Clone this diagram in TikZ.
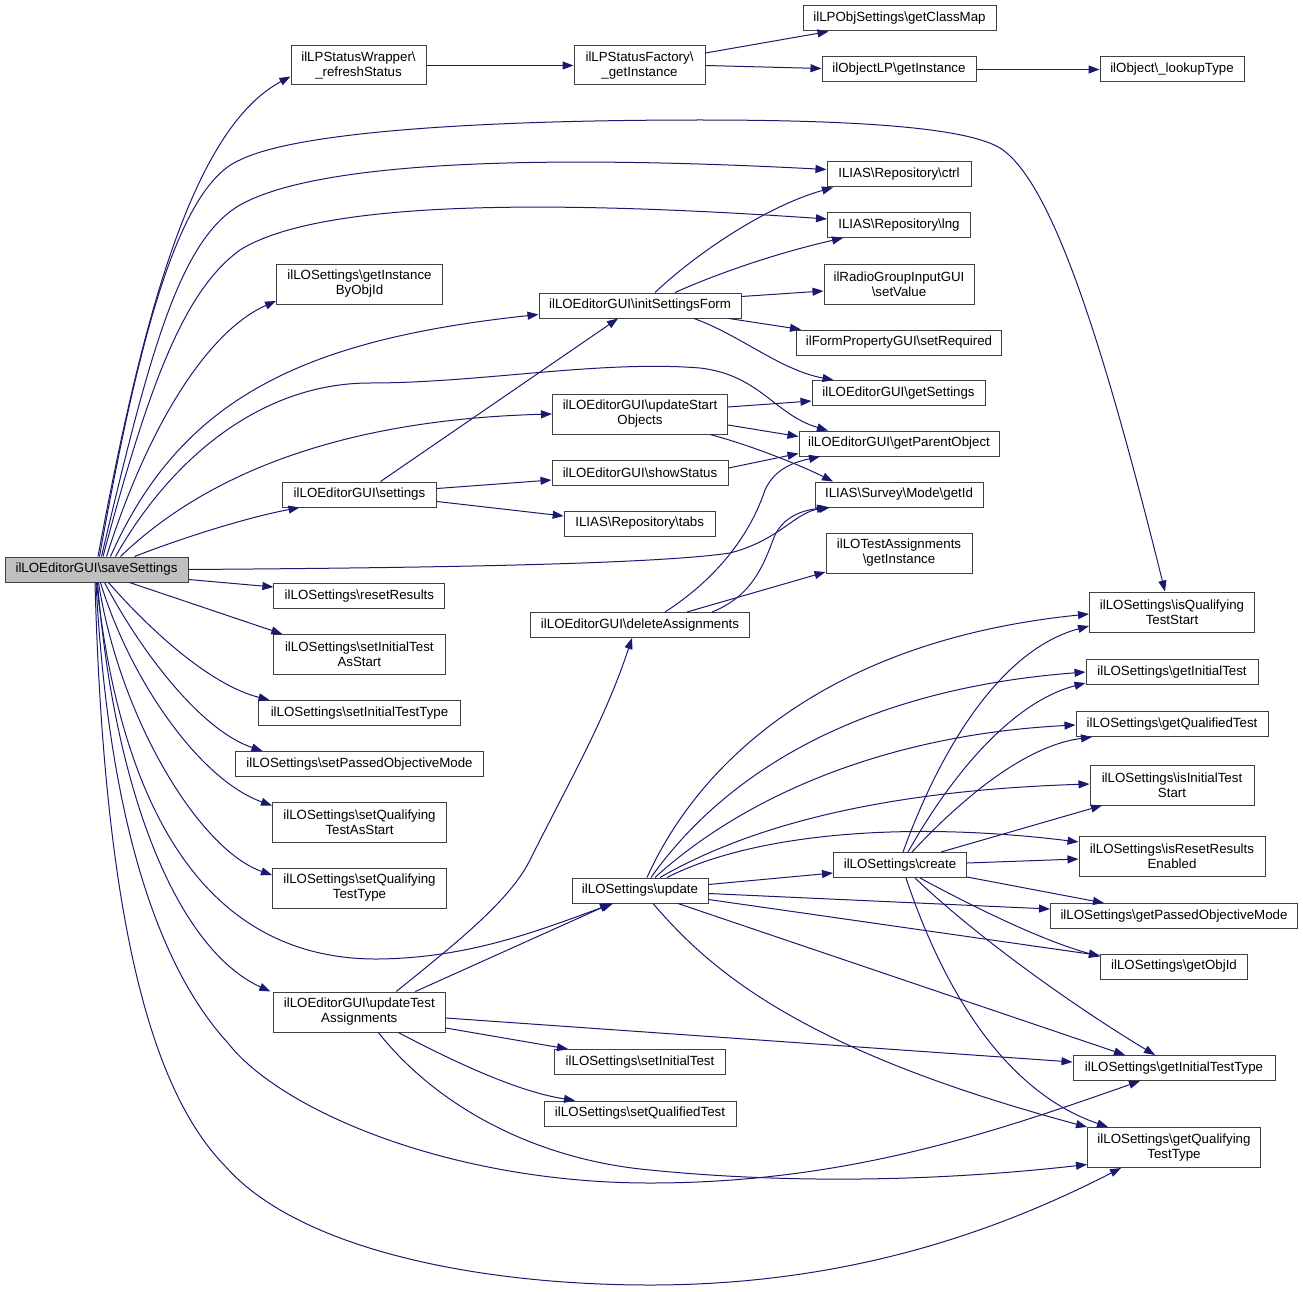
\documentclass[tikz,border=0pt]{standalone}
\usepackage{fontspec}
\setmainfont{Liberation Sans}
\usetikzlibrary{arrows.meta,calc}
\definecolor{edgeblue}{HTML}{191970}
\definecolor{rootgray}{HTML}{BFBFBF}
\definecolor{boxline}{HTML}{404040}
\begin{document}
\begin{tikzpicture}[x=1pt,y=-1pt,
  box/.style={draw=boxline, line width=1pt, fill=white, inner sep=0pt, align=center,
    font=\fontsize{13.3}{15}\selectfont},
  rootbox/.style={box, fill=rootgray},
  edge/.style={draw=edgeblue, line width=1pt, -{Triangle[length=11pt,width=8pt]}, fill=none},
]
\useasboundingbox (0,0) rectangle (1303,1292);
\tikzset{every path/.append style={}}
% nodes
\node[rootbox, minimum width=183pt, minimum height=25pt] (save) at (96.5,569.5) {ilLOEditorGUI\textbackslash saveSettings};
\node[box, minimum width=135pt, minimum height=39pt] (rs) at (358.5,65.5) {ilLPStatusWrapper\textbackslash\\\_refreshStatus};
\node[box, minimum width=131pt, minimum height=39pt] (sf) at (639.5,65.5) {ilLPStatusFactory\textbackslash\\\_getInstance};
\node[box, minimum width=193pt, minimum height=25pt] (gcm) at (899.5,18.5) {ilLPObjSettings\textbackslash getClassMap};
\node[box, minimum width=154pt, minimum height=25pt] (olp) at (899,69.5) {ilObjectLP\textbackslash getInstance};
\node[box, minimum width=144pt, minimum height=25pt] (lt) at (1172,69.5) {ilObject\textbackslash\_lookupType};
\node[box, minimum width=144pt, minimum height=25pt] (ctrl) at (899,174.5) {ILIAS\textbackslash Repository\textbackslash ctrl};
\node[box, minimum width=143pt, minimum height=25pt] (lng) at (899,225) {ILIAS\textbackslash Repository\textbackslash lng};
\node[box, minimum width=166pt, minimum height=40pt] (gibo) at (359.5,284) {ilLOSettings\textbackslash getInstance\\ByObjId};
\node[box, minimum width=202pt, minimum height=25pt] (isf) at (640,305.5) {ilLOEditorGUI\textbackslash initSettingsForm};
\node[box, minimum width=150pt, minimum height=40pt] (rgv) at (899,284) {ilRadioGroupInputGUI\\\textbackslash setValue};
\node[box, minimum width=205pt, minimum height=25pt] (sr) at (899,342.5) {ilFormPropertyGUI\textbackslash setRequired};
\node[box, minimum width=173pt, minimum height=25pt] (gs) at (898.5,393) {ilLOEditorGUI\textbackslash getSettings};
\node[box, minimum width=175pt, minimum height=40pt] (uso) at (640,414) {ilLOEditorGUI\textbackslash updateStart\\Objects};
\node[box, minimum width=200pt, minimum height=25pt] (gpo) at (899,443.5) {ilLOEditorGUI\textbackslash getParentObject};
\node[box, minimum width=176pt, minimum height=25pt] (ss) at (640,473) {ilLOEditorGUI\textbackslash showStatus};
\node[box, minimum width=154pt, minimum height=25pt] (set) at (359.5,494.5) {ilLOEditorGUI\textbackslash settings};
\node[box, minimum width=168pt, minimum height=25pt] (gid) at (899,494.5) {ILIAS\textbackslash Survey\textbackslash Mode\textbackslash getId};
\node[box, minimum width=151pt, minimum height=25pt] (tabs) at (639.7,523.5) {ILIAS\textbackslash Repository\textbackslash tabs};
\node[box, minimum width=146pt, minimum height=40pt] (tai) at (899,553) {ilLOTestAssignments\\\textbackslash getInstance};
\node[box, minimum width=171pt, minimum height=25pt] (rr) at (359.4,596) {ilLOSettings\textbackslash resetResults};
\node[box, minimum width=219pt, minimum height=25pt] (da) at (640,625) {ilLOEditorGUI\textbackslash deleteAssignments};
\node[box, minimum width=165pt, minimum height=40pt] (iqts) at (1172,612) {ilLOSettings\textbackslash isQualifying\\TestStart};
\node[box, minimum width=172pt, minimum height=40pt] (sitas) at (359.3,654.5) {ilLOSettings\textbackslash setInitialTest\\AsStart};
\node[box, minimum width=172pt, minimum height=25pt] (git) at (1172,672) {ilLOSettings\textbackslash getInitialTest};
\node[box, minimum width=202pt, minimum height=25pt] (sitt) at (359.5,713) {ilLOSettings\textbackslash setInitialTestType};
\node[box, minimum width=192pt, minimum height=25pt] (gqt) at (1172,724) {ilLOSettings\textbackslash getQualifiedTest};
\node[box, minimum width=248pt, minimum height=25pt] (spom) at (359.5,764) {ilLOSettings\textbackslash setPassedObjectiveMode};
\node[box, minimum width=164pt, minimum height=40pt] (iits) at (1172,785) {ilLOSettings\textbackslash isInitialTest\\Start};
\node[box, minimum width=174pt, minimum height=40pt] (sqtas) at (359.5,822.5) {ilLOSettings\textbackslash setQualifying\\TestAsStart};
\node[box, minimum width=186pt, minimum height=40pt] (irre) at (1172,856) {ilLOSettings\textbackslash isResetResults\\Enabled};
\node[box, minimum width=133pt, minimum height=25pt] (cre) at (900,865) {ilLOSettings\textbackslash create};
\node[box, minimum width=174pt, minimum height=40pt] (sqtt) at (359.5,888) {ilLOSettings\textbackslash setQualifying\\TestType};
\node[box, minimum width=136pt, minimum height=25pt] (upd) at (640,890.5) {ilLOSettings\textbackslash update};
\node[box, minimum width=247pt, minimum height=25pt] (gpom) at (1174,916) {ilLOSettings\textbackslash getPassedObjectiveMode};
\node[box, minimum width=147pt, minimum height=25pt] (goi) at (1174,966.5) {ilLOSettings\textbackslash getObjId};
\node[box, minimum width=172pt, minimum height=40pt] (uta) at (359.3,1012) {ilLOEditorGUI\textbackslash updateTest\\Assignments};
\node[box, minimum width=171pt, minimum height=25pt] (sit) at (640,1062) {ilLOSettings\textbackslash setInitialTest};
\node[box, minimum width=202pt, minimum height=25pt] (gitt) at (1174,1068) {ilLOSettings\textbackslash getInitialTestType};
\node[box, minimum width=192pt, minimum height=25pt] (sqt) at (640,1113.5) {ilLOSettings\textbackslash setQualifiedTest};
\node[box, minimum width=173pt, minimum height=40pt] (gqtt) at (1174,1147.5) {ilLOSettings\textbackslash getQualifying\\TestType};

% edges from saveSettings
\draw[edge] ($(save.north)+(1.5,0)$) .. controls (140,330) and (190,130) .. ($(rs.west)+(0,11)$);
\draw[edge] ($(save.north)+(3,0)$) .. controls (140,330) and (180,185) .. (240,160) .. controls (300,130) and (500,120) .. (700,120) .. controls (880,120) and (970,130) .. (1000,148) .. controls (1050,180) and (1100,330) .. ($(iqts.north)+(-7,0)$);
\draw[edge] ($(save.north)+(5,0)$) .. controls (150,350) and (180,240) .. (240,205) .. controls (320,160) and (550,155) .. ($(ctrl.west)+(0,-5)$);
\draw[edge] ($(save.north)+(6.5,0)$) .. controls (150,380) and (185,290) .. (240,250) .. controls (320,200) and (550,200) .. ($(lng.west)+(0,-6)$);
\draw[edge] ($(save.north)+(10,0)$) .. controls (150,420) and (210,330) .. ($(gibo.west)+(0,17)$);
\draw[edge] ($(save.north)+(14,0)$) .. controls (180,400) and (300,340) .. ($(isf.west)+(0,9)$);
\draw[edge] ($(save.north)+(19,0)$) .. controls (170,460) and (260,383) .. (370,383) .. controls (480,383) and (600,360) .. (700,368) .. controls (760,375) and (775,415) .. ($(gpo.north)+(-71,0)$);
\draw[edge] ($(save.north)+(24,0)$) .. controls (200,480) and (330,420) .. (uso.west);
\draw[edge] ($(save.north)+(38,0)$) .. controls (190,535) and (250,517) .. ($(set.south)+(-60,0)$);
\draw[edge] (save.east) .. controls (400,568) and (650,565) .. (730,553) .. controls (780,540) and (795,512) .. ($(gid.south)+(-69,0)$);
\draw[edge] ($(save.east)+(0,10)$) -- ($(rr.west)+(0,-9)$);
\draw[edge] ($(save.south)+(33,0)$) -- ($(sitas.north)+(-77,0)$);
\draw[edge] ($(save.south)+(12,0)$) .. controls (150,630) and (210,685) .. ($(sitt.north)+(-90,0)$);
\draw[edge] ($(save.south)+(8,0)$) .. controls (140,650) and (200,730) .. ($(spom.north)+(-97,0)$);
\draw[edge] ($(save.south)+(4,0)$) .. controls (130,680) and (200,780) .. ($(sqtas.west)+(0,-17)$);
\draw[edge] ($(save.south)+(2,0)$) .. controls (120,720) and (200,850) .. ($(sqtt.west)+(0,-13)$);
\draw[edge] (save.south) .. controls (120,800) and (200,960) .. (378,959) .. controls (470,958) and (540,930) .. ($(upd.south)+(-27,0)$);
\draw[edge] ($(save.south)+(1,0)$) .. controls (115,800) and (180,950) .. ($(uta.north)+(-89,0)$);
\draw[edge] ($(save.south)+(-0.5,0)$) .. controls (110,850) and (170,980) .. (228,1043) .. controls (280,1110) and (450,1183) .. (650,1183) .. controls (850,1183) and (1000,1130) .. ($(gitt.south)+(-34,0)$);
\draw[edge] ($(save.south)+(-1.5,0)$) .. controls (105,950) and (160,1100) .. (226,1167) .. controls (300,1250) and (480,1285) .. (650,1285) .. controls (850,1285) and (1000,1230) .. ($(gqtt.south)+(-53,0)$);

% status chain
\draw[edge] (rs.east) -- (sf.west);
\draw[edge] ($(sf.east)+(0,-12.5)$) -- ($(gcm.south)+(-71,0)$);
\draw[edge] (sf.east) -- ($(olp.west)+(0,-1)$);
\draw[edge] (olp.east) -- (lt.west);

% initSettingsForm
\draw[edge] ($(isf.north)+(15,0)$) .. controls (700,250) and (770,205) .. ($(ctrl.south)+(-66,0)$);
\draw[edge] ($(isf.north)+(35,0)$) .. controls (730,268) and (790,250) .. ($(lng.south)+(-56,0)$);
\draw[edge] ($(isf.east)+(0,-9)$) -- ($(rgv.west)+(0,7)$);
\draw[edge] ($(isf.south)+(89,0)$) -- ($(sr.north)+(-98,0)$);
\draw[edge] ($(isf.south)+(54,0)$) .. controls (740,335) and (780,370) .. ($(gs.north)+(-65,0)$);

% settings
\draw[edge] ($(set.north)+(21,0)$) -- ($(isf.south)+(-22,0)$);
\draw[edge] ($(set.east)+(0,-6)$) -- ($(ss.west)+(0,7)$);
\draw[edge] ($(set.east)+(0,7)$) -- ($(tabs.west)+(0,-7.5)$);

% updateStartObjects, showStatus
\draw[edge] ($(uso.east)+(0,-7)$) -- ($(gs.west)+(0,8)$);
\draw[edge] ($(uso.east)+(0,11)$) -- ($(gpo.west)+(0,-7)$);
\draw[edge] ($(uso.south)+(70,0)$) .. controls (750,445) and (800,465) .. ($(gid.north)+(-66,0)$);
\draw[edge] ($(ss.east)+(0,-5)$) -- ($(gpo.west)+(0,10)$);

% deleteAssignments
\draw[edge] ($(da.north)+(25,0)$) .. controls (730,570) and (755,520) .. (765,490) .. controls (775,468) and (795,462) .. ($(gpo.south)+(-79,0)$);
\draw[edge] ($(da.north)+(72,0)$) .. controls (755,595) and (765,560) .. (775,535) .. controls (785,515) and (805,510) .. ($(gid.south)+(-71,0)$);
\draw[edge] ($(da.north)+(47,0)$) -- ($(tai.west)+(0,19)$);

% updateTestAssignments
\draw[edge] ($(uta.north)+(37,0)$) .. controls (460,940) and (510,900) .. (530,860) .. controls (570,780) and (605,720) .. ($(da.south)+(-8,0)$);
\draw[edge] ($(uta.north)+(56,0)$) -- ($(upd.south)+(-29,0)$);
\draw[edge] ($(uta.east)+(0,6)$) -- ($(gitt.west)+(0,-6)$);
\draw[edge] ($(uta.east)+(0,16)$) -- ($(sit.north)+(-72,0)$);
\draw[edge] ($(uta.south)+(39,0)$) .. controls (460,1065) and (520,1092) .. ($(sqt.north)+(-65,0)$);
\draw[edge] ($(uta.south)+(19,0)$) .. controls (440,1110) and (540,1160) .. (650,1170) .. controls (800,1185) and (950,1180) .. ($(gqtt.west)+(0,17)$);

% update
\draw[edge] ($(upd.north)+(7,0)$) .. controls (700,760) and (830,640) .. ($(iqts.west)+(0,2)$);
\draw[edge] ($(upd.north)+(11,0)$) .. controls (720,780) and (850,690) .. (git.west);
\draw[edge] ($(upd.north)+(15,0)$) .. controls (740,800) and (880,735) .. ($(gqt.west)+(0,1)$);
\draw[edge] ($(upd.north)+(20,0)$) .. controls (760,820) and (900,790) .. ($(iits.west)+(0,-1)$);
\draw[edge] ($(upd.north)+(27,0)$) .. controls (750,835) and (900,820) .. ($(irre.west)+(0,-14)$);
\draw[edge] ($(upd.east)+(0,-6)$) -- ($(cre.west)+(0,8)$);
\draw[edge] ($(upd.east)+(0,3)$) -- ($(gpom.west)+(0,-7)$);
\draw[edge] ($(upd.east)+(0,9)$) -- ($(goi.west)+(0,-11)$);
\draw[edge] ($(upd.south)+(38,0)$) -- ($(gitt.north)+(-49,0)$);
\draw[edge] ($(upd.south)+(13,0)$) .. controls (710,970) and (800,1050) .. ($(gqtt.north)+(-87,0)$);

% create
\draw[edge] ($(cre.north)+(3,0)$) .. controls (940,750) and (1000,650) .. ($(iqts.west)+(0,14)$);
\draw[edge] ($(cre.north)+(8,0)$) .. controls (960,760) and (1020,700) .. ($(git.west)+(0,11)$);
\draw[edge] ($(cre.north)+(12,0)$) .. controls (970,790) and (1030,745) .. ($(gqt.south)+(-80,0)$);
\draw[edge] ($(cre.north)+(41,0)$) -- ($(iits.south)+(-70,0)$);
\draw[edge] ($(cre.east)+(0,-2)$) -- ($(irre.west)+(0,3)$);
\draw[edge] ($(cre.east)+(0,12)$) -- ($(gpom.north)+(-70,0)$);
\draw[edge] ($(cre.south)+(20,0)$) .. controls (970,905) and (1040,940) .. ($(goi.west)+(0,-10)$);
\draw[edge] ($(cre.south)+(15,0)$) .. controls (980,940) and (1080,1010) .. ($(gitt.north)+(-19,0)$);
\draw[edge] ($(cre.south)+(6,0)$) .. controls (940,980) and (1000,1090) .. ($(gqtt.north)+(-66,0)$);
\end{tikzpicture}
\end{document}
